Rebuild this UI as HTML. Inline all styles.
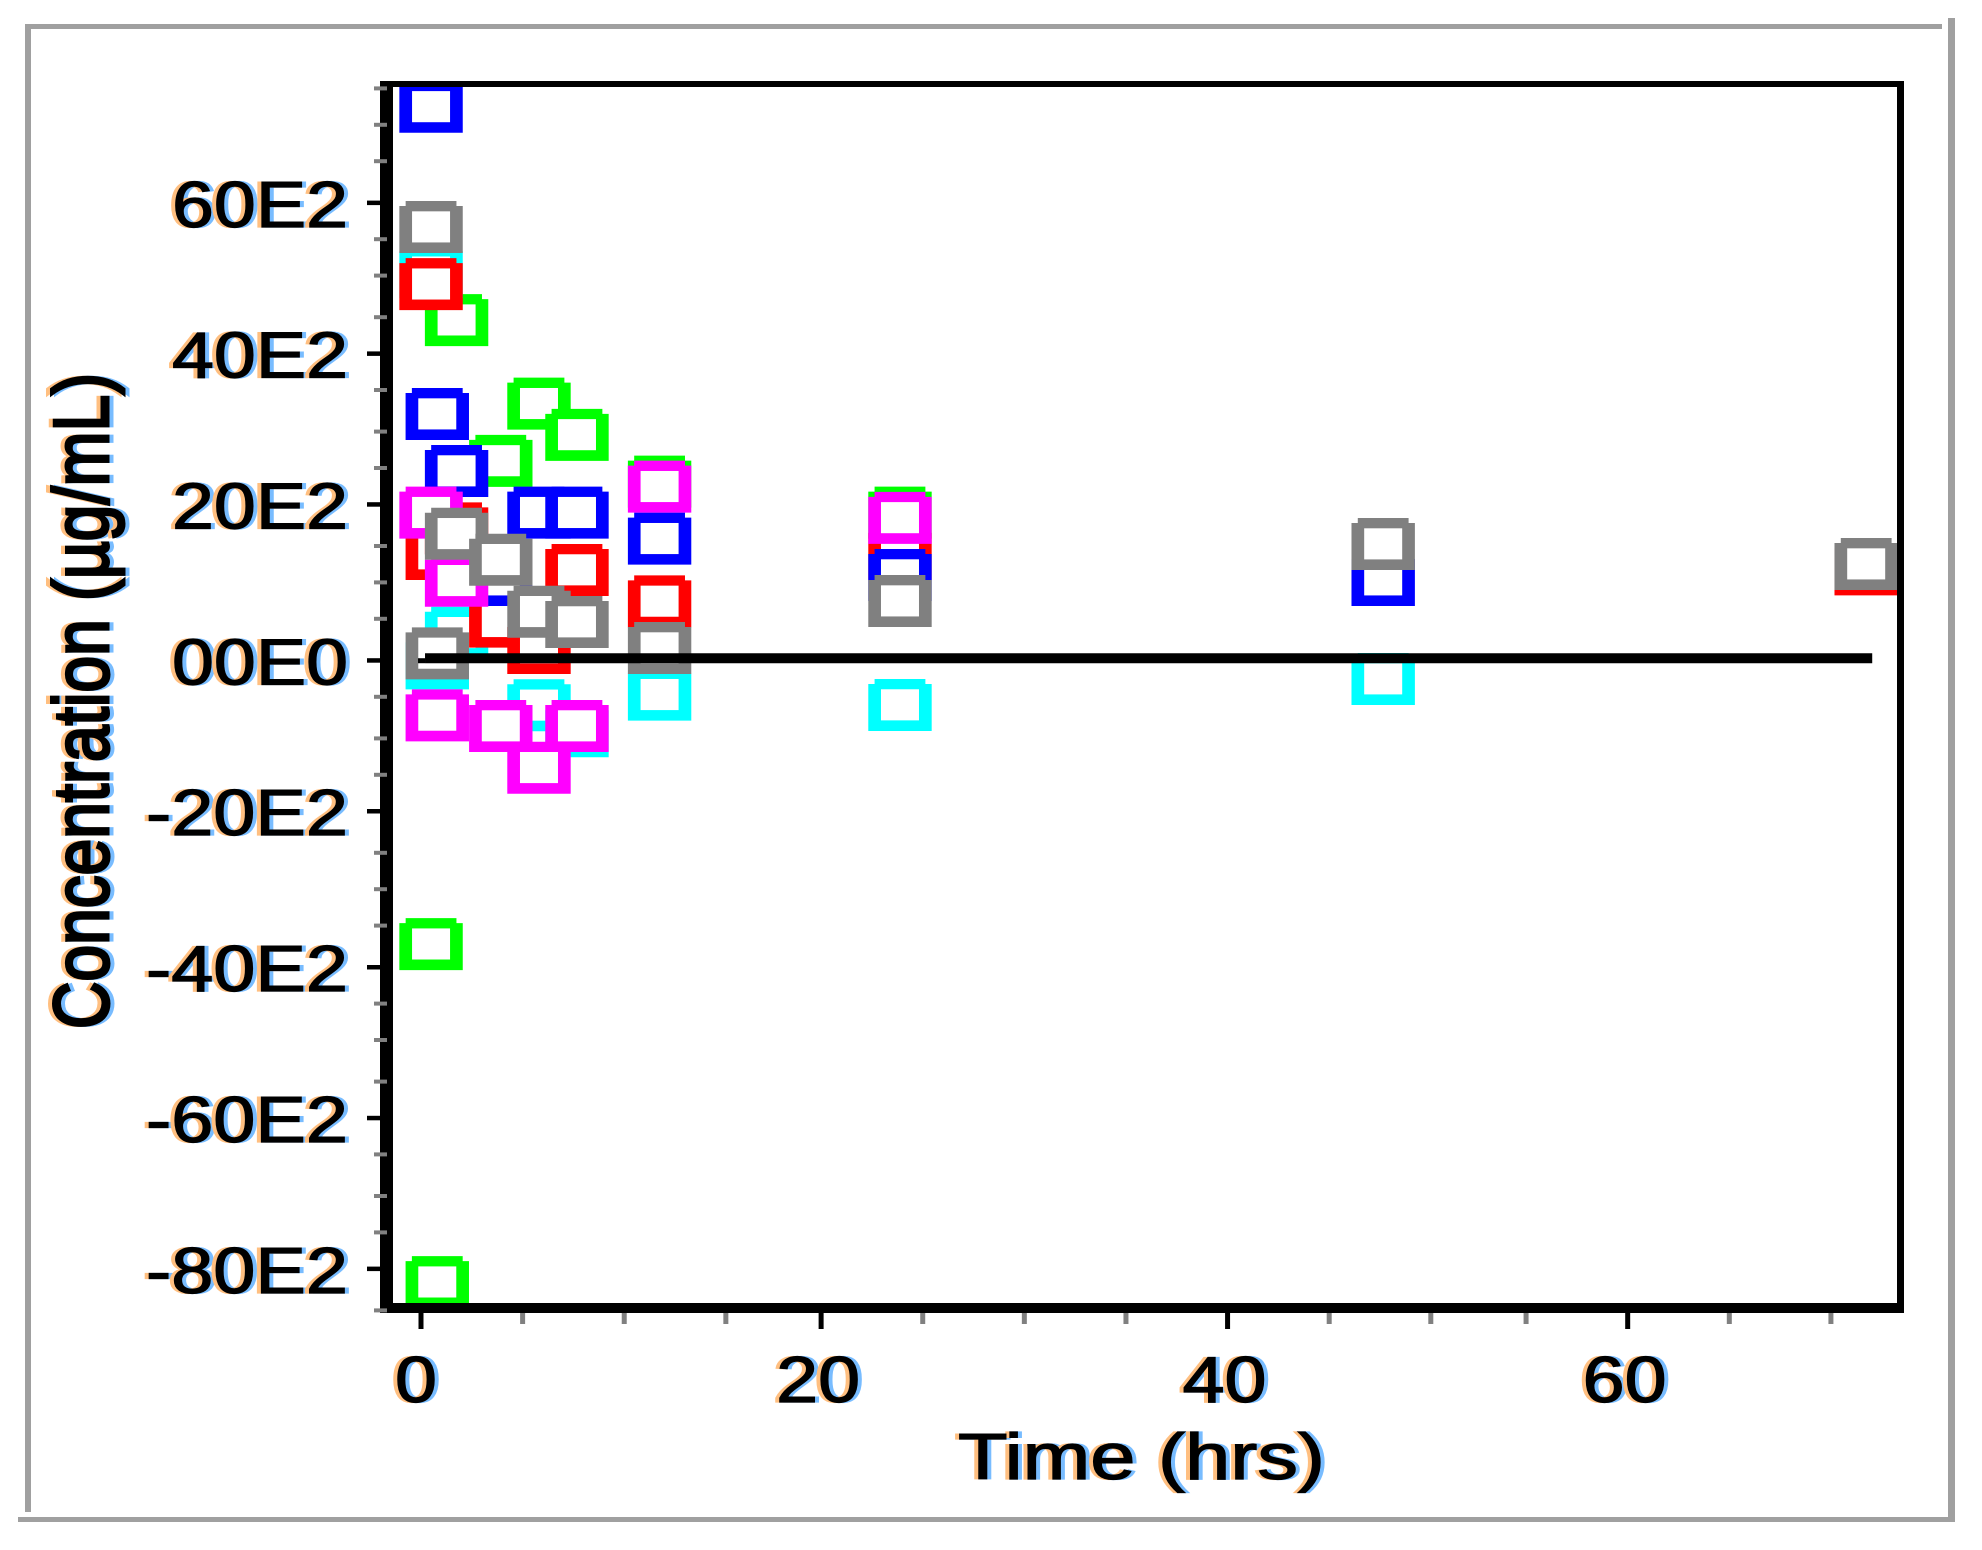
<!DOCTYPE html>
<html>
<head>
<meta charset="utf-8">
<title>Concentration vs Time</title>
<style>
html,body{margin:0;padding:0;background:#fff;width:1982px;height:1550px;overflow:hidden}
svg{display:block}
text{font-family:"Liberation Sans",sans-serif;fill:#000;stroke:#000;stroke-width:1.2}
#labels{filter:drop-shadow(-4px 0 0 #ffbf80) drop-shadow(4px 0 0 #78bcff)}
#y-title{stroke-width:3}
</style>
</head>
<body>
<svg id="chart" xmlns="http://www.w3.org/2000/svg" width="1982" height="1550" viewBox="0 0 1982 1550">
  <defs>
    <clipPath id="plot-clip"><rect x="393" y="87" width="1504.5" height="1222"/></clipPath>
  </defs>
  <rect x="0" y="0" width="1982" height="1550" fill="#fff"/>
  <g fill="#a0a0a0">
    <rect x="25" y="24" width="1917" height="5"/>
    <rect x="25" y="24" width="6" height="1488"/>
    <rect x="1948" y="18" width="7" height="1504"/>
    <rect x="18" y="1517" width="1937" height="5"/>
  </g>
  <g id="markers" clip-path="url(#plot-clip)"></g>
  <g fill="#000">
    <rect x="380" y="81" width="1524" height="6"/>
    <rect x="1897" y="81" width="7" height="1232"/>
    <rect x="380" y="81" width="13" height="1232"/>
    <rect x="380" y="1303" width="1524" height="10"/>
  </g>
  <g id="ticks"></g>
  <g id="zero"></g>
  <g id="labels">
    <text x="958" y="1479" font-size="65" textLength="367" lengthAdjust="spacingAndGlyphs">Time (hrs)</text>
    <text id="y-title" transform="translate(108,1029) rotate(-90)" x="0" y="0" font-size="78" textLength="656" lengthAdjust="spacingAndGlyphs">Concentration (µg/mL)</text>
  </g>
</svg>
<script>
const xMajorTicks = [0, 20, 40, 60];
const xTickLabels = ["0", "20", "40", "60"];
const xMinorTicks = [5, 10, 15, 25, 30, 35, 45, 50, 55, 65, 70];
const yMajorTicks = [6000, 4000, 2000, 0, -2000, -4000, -6000, -8000];
const yTickLabels = ["60E2", "40E2", "20E2", "00E0", "-20E2", "-40E2", "-60E2", "-80E2"];
const yMinorTicks = [7500, 7000, 6500, 5500, 5000, 4500, 3500, 3000, 2500, 1500, 1000, 500, -500, -1000, -1500, -2500, -3000, -3500, -4500, -5000, -5500, -6500, -7000, -7500, -8500];

const greenTimes = [0.81, 0.5, 1.77, 3.97, 5.87, 7.76, 11.87, 23.83];
const greenValues = [-8164, -3725, 4471, 2622, 3373, 2964, 2349, 1942];
const cyanTimes = [0.5, 0.81, 1.77, 5.87, 7.76, 11.87, 23.83, 47.87];
const cyanValues = [5100, -37, 365, -588, -930, -449, -584, -243];
const redTimes = [0.5, 0.81, 1.77, 3.97, 5.87, 7.76, 11.87, 23.83, 71.9];
const redValues = [4943, 1399, 1736, 510, 164, 1189, 777, 1400, 1196];
const blueTimes = [0.5, 0.81, 1.77, 3.97, 5.87, 7.76, 11.87, 23.83, 47.87];
const blueValues = [7272, 3237, 2489, 1057, 1942, 1942, 1600, 1123, 1057];
const magentaTimes = [0.5, 0.81, 1.77, 3.97, 5.87, 7.76, 11.87, 23.83];
const magentaValues = [1942, -720, 1048, -860, -1408, -860, 2283, 1874];
const grayTimes = [0.5, 0.81, 1.77, 3.97, 5.87, 7.76, 11.87, 23.83, 47.87, 71.9];
const grayValues = [5693, 94, 1665, 1324, 641, 506, 164, 781, 1530, 1267];
const zeroLineTimes = [0.2, 72.2];
const zeroLineValues = [30, 30];

const NS = "http://www.w3.org/2000/svg";
function xScale(t) { return 421 + 20.1 * t; }
function yScale(v) { return 660.5 - v * 0.07614; }
/* Ticks sit on the coarse pixel grid of the low-resolution source image */
function xTickPos(t) { return 421 + 6.351 * (Math.floor(66.42 + t * 15.86 / 5) - 66); }
function yTickPos(v) { return 5.2 * Math.floor(127.3 - v * 29.4 / 2000); }

function make(tag, parent) {
  const el = document.createElementNS(NS, tag);
  parent.appendChild(el);
  return el;
}

function drawMarker(parent, seriesName, color, t, v) {
  const cx = xScale(t), cy = yScale(v);
  const w = 63.4, h = 52, nx = 6.3, ny = 5, sx = 12.7, st = 10.3, sb = 10.6;
  const l = cx - w / 2, r = cx + w / 2, top = cy - h / 2, bot = cy + h / 2;
  const g = make("g", parent);
  
  
  const outer = make("path", g);
  outer.setAttribute("d", "M" + l + " " + (top + ny) + "H" + (l + nx) + "V" + top + "H" + (r - nx) + "V" + (top + ny) + "H" + r + "V" + bot + "H" + l + "Z");
  outer.setAttribute("fill", color);
  const inner = make("rect", g);
  inner.setAttribute("x", l + sx);
  inner.setAttribute("y", top + st);
  inner.setAttribute("width", w - 2 * sx);
  inner.setAttribute("height", h - st - sb);
  inner.setAttribute("fill", "#fff");
}

function drawSeries(name, color, times, values) {
  const group = document.getElementById("markers");
  for (let i = 0; i < times.length; i++) {
    drawMarker(group, name, color, times[i], values[i]);
  }
}

drawSeries("green", "#00ff00", greenTimes, greenValues);
drawSeries("cyan", "#00ffff", cyanTimes, cyanValues);
drawSeries("red", "#ff0000", redTimes, redValues);
drawSeries("blue", "#0000ff", blueTimes, blueValues);
drawSeries("magenta", "#ff00ff", magentaTimes, magentaValues);
drawSeries("gray", "#808080", grayTimes, grayValues);

const ticksGroup = document.getElementById("ticks");
const labelsGroup = document.getElementById("labels");

yMinorTicks.forEach(function (v) {
  const r = make("rect", ticksGroup);
  
  
  r.setAttribute("x", 374);
  r.setAttribute("y", yTickPos(v) - 2);
  r.setAttribute("width", 13);
  r.setAttribute("height", 4);
  r.setAttribute("fill", "#808080");
});

yMajorTicks.forEach(function (v, i) {
  const r = make("rect", ticksGroup);
  
  
  r.setAttribute("x", 367);
  r.setAttribute("y", yTickPos(v) - 2.2);
  r.setAttribute("width", 13);
  r.setAttribute("height", 4.5);
  r.setAttribute("fill", "#000");
  const s = yTickLabels[i];
  const w = s.length > 4 ? 202 : 176;
  const t = make("text", labelsGroup);
  
  
  t.setAttribute("x", 348 - w);
  t.setAttribute("y", yTickPos(v) + 24);
  t.setAttribute("font-size", 65);
  t.setAttribute("textLength", w);
  t.setAttribute("lengthAdjust", "spacingAndGlyphs");
  t.textContent = s;
});

xMinorTicks.forEach(function (h) {
  const r = make("rect", ticksGroup);
  
  
  r.setAttribute("x", xTickPos(h) - 2.5);
  r.setAttribute("y", 1313);
  r.setAttribute("width", 5);
  r.setAttribute("height", 11);
  r.setAttribute("fill", "#808080");
});

xMajorTicks.forEach(function (h, i) {
  const r = make("rect", ticksGroup);
  
  
  r.setAttribute("x", xTickPos(h) - 2.5);
  r.setAttribute("y", 1313);
  r.setAttribute("width", 5);
  r.setAttribute("height", 16);
  r.setAttribute("fill", "#000");
  const s = xTickLabels[i];
  const w = s.length * 42;
  const t = make("text", labelsGroup);
  
  
  t.setAttribute("x", xTickPos(h) - (s.length > 1 ? 3 : 5) - w / 2);
  t.setAttribute("y", 1402);
  t.setAttribute("font-size", 65);
  t.setAttribute("textLength", w);
  t.setAttribute("lengthAdjust", "spacingAndGlyphs");
  t.textContent = s;
});

const zeroLine = make("line", document.getElementById("zero"));


zeroLine.setAttribute("x1", xScale(zeroLineTimes[0]));
zeroLine.setAttribute("x2", xScale(zeroLineTimes[1]));
zeroLine.setAttribute("y1", yScale(zeroLineValues[0]));
zeroLine.setAttribute("y2", yScale(zeroLineValues[1]));
zeroLine.setAttribute("stroke", "#000");
zeroLine.setAttribute("stroke-width", 10);

const zeroLineStart = make("rect", document.getElementById("zero"));


zeroLineStart.setAttribute("x", xScale(zeroLineTimes[0]) - 7);
zeroLineStart.setAttribute("y", yScale(zeroLineValues[0]));
zeroLineStart.setAttribute("width", 7);
zeroLineStart.setAttribute("height", 5);
zeroLineStart.setAttribute("fill", "#000");
</script>
</body>
</html>
